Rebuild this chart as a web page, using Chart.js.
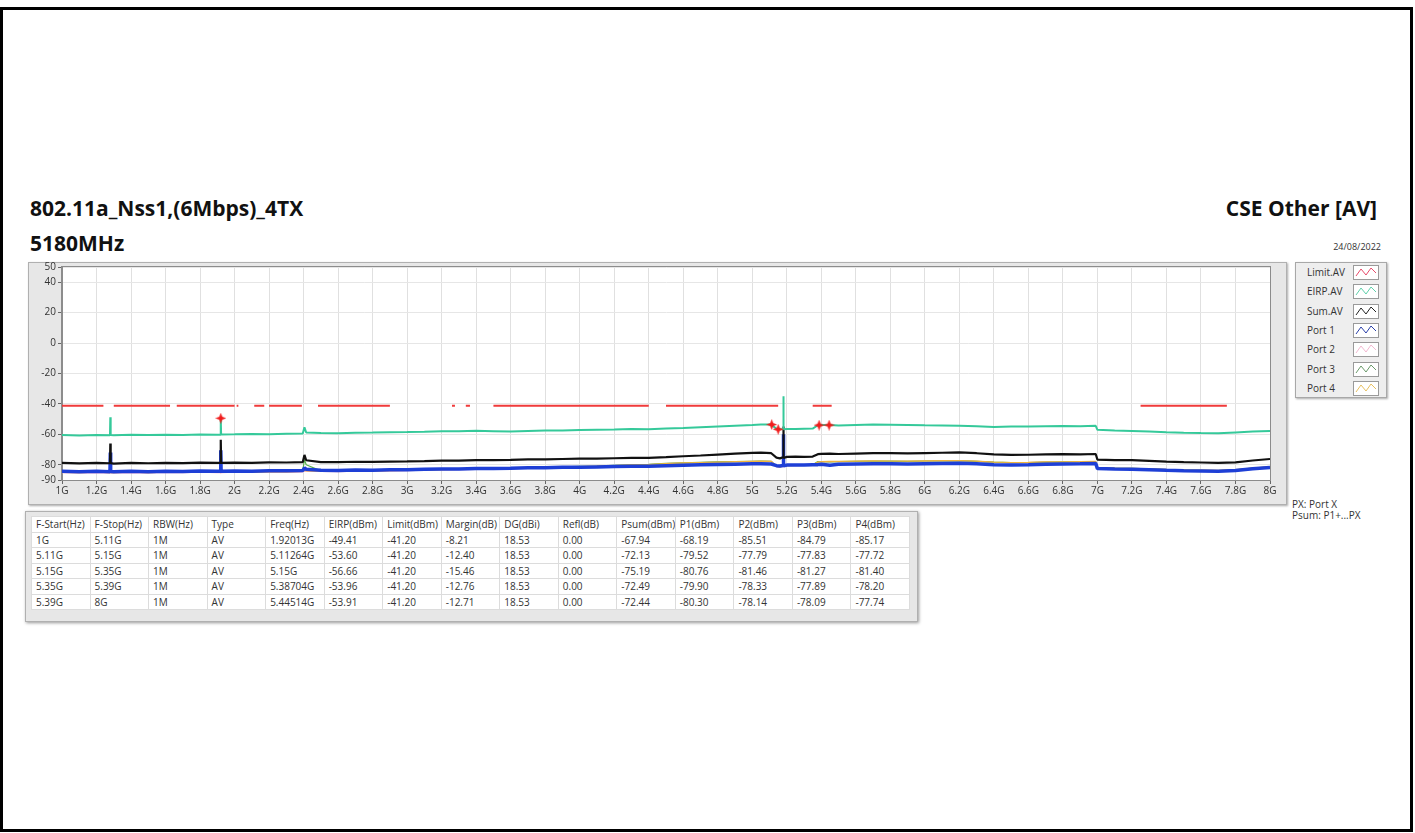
<!DOCTYPE html>
<html>
<head>
<meta charset="utf-8">
<script src="https://cdn.jsdelivr.net/npm/chart.js@4.4.1/dist/chart.umd.min.js"></script>
<style>
    body { margin: 0; width: 1415px; height: 833px; background: #fff; position: relative; overflow: hidden;
           font-family: "Open Sans", "Noto Sans", sans-serif; color: #222; }
    #frame { position: absolute; left: 0; top: 7px; width: 1407px; height: 819px; border: 3px solid #000; }
    .title { position: absolute; font-weight: bold; font-size: 21px; line-height: 24px; color: #111; white-space: nowrap; }
    .small { position: absolute; font-size: 9px; color: #333; white-space: nowrap; }
    #panel { position: absolute; left: 28px; top: 262px; width: 1257px; height: 241px; background: #e7e7e7;
             border: 1px solid #b0b0b0; box-shadow: 1px 1px 2px #aaa; }
    #chart-wrap { position: absolute; left: 28px; top: 258px; width: 1259px; height: 247px; }
    #legend { position: absolute; left: 1295px; top: 262px; width: 90px; height: 134px; background: #eeeeee;
              border: 1px solid #a8a8a8; box-shadow: 1px 1px 2px #aaa; }
    .leg-item { position: absolute; left: 11px; height: 16px; width: 76px; font-size: 10px; line-height: 16px; color: #333; }
    .leg-item svg { position: absolute; left: 46px; top: 1px; }
    .note { position: absolute; left: 1292px; font-size: 10px; color: #333; white-space: nowrap; }
    #table-panel { position: absolute; left: 25px; top: 511px; width: 891px; height: 109px; background: #e7e7e7;
                   border: 1px solid #b0b0b0; box-shadow: 1px 1px 3px #999; }
    #data-table { position: absolute; left: 31px; top: 516px; width: 879px; border-collapse: collapse; background: #fff;
                  table-layout: fixed; font-size: 10px; color: #333; }
    #data-table td { border: 1px solid #dcdcdc; height: 14.5px; padding: 0 0 0 4px; line-height: 14px; white-space: nowrap; overflow: hidden; }
</style>
</head>
<body>
<div id="frame"></div>
<div class="title" style="left:30px; top:196px;">802.11a_Nss1,(6Mbps)_4TX</div>
<div class="title" style="left:30px; top:231px;">5180MHz</div>
<div class="title" style="right:38px; top:196px;">CSE Other [AV]</div>
<div class="small" style="right:34px; top:240px;">24/08/2022</div>

<div id="panel"></div>
<div id="chart-wrap"><canvas id="spectrum-chart"></canvas></div>
<div id="legend"></div>
<div class="note" style="top:497px;">PX: Port X</div>
<div class="note" style="top:508px;">Psum: P1+...PX</div>

<div id="table-panel"></div>
<table id="data-table"></table>

<script>
// ---- axis ticks ----
const xTicks = [1, 1.2, 1.4, 1.6, 1.8, 2, 2.2, 2.4, 2.6, 2.8, 3, 3.2, 3.4, 3.6, 3.8, 4, 4.2, 4.4,
    4.6, 4.8, 5, 5.2, 5.4, 5.6, 5.8, 6, 6.2, 6.4, 6.6, 6.8, 7, 7.2, 7.4, 7.6, 7.8, 8];
const xTickLabels = ['1G', '1.2G', '1.4G', '1.6G', '1.8G', '2G', '2.2G', '2.4G', '2.6G', '2.8G', '3G',
    '3.2G', '3.4G', '3.6G', '3.8G', '4G', '4.2G', '4.4G', '4.6G', '4.8G', '5G', '5.2G', '5.4G', '5.6G',
    '5.8G', '6G', '6.2G', '6.4G', '6.6G', '6.8G', '7G', '7.2G', '7.4G', '7.6G', '7.8G', '8G'];
const yTicks = [50, 40, 20, 0, -20, -40, -60, -80, -90];

// ---- legend ----
const seriesNames = ['Limit.AV', 'EIRP.AV', 'Sum.AV', 'Port 1', 'Port 2', 'Port 3', 'Port 4'];
const seriesColors = ['#f03a3a', '#35c99a', '#111111', '#1e3fd6', '#f4a6c8', '#58b04c', '#f0b43c'];
const legendSwatch = ['#e84a6a', '#5fd0aa', '#222222', '#2a3fa8', '#f2b8d0', '#6a9a6a', '#e8c060'];

// ---- limit line (GHz segments at -41.2 dBm) ----
const limitStart = [1.0, 1.3, 1.665, 2.012, 2.114, 2.2, 2.4835, 3.26, 3.34, 3.5, 4.5, 5.35, 7.25];
const limitStop  = [1.24, 1.626, 2.0, 2.022, 2.172, 2.39, 2.9, 3.277, 3.364, 4.4, 5.15, 5.46, 7.75];
const limitLevel = -41.2;

// ---- traces (GHz / dBm) ----
const freqs = [
    1.0, 1.1, 1.2, 1.278, 1.28, 1.282, 1.3, 1.4, 1.5, 1.6,
    1.7, 1.8, 1.9, 1.918, 1.92, 1.922, 2.0, 2.1, 2.2, 2.3,
    2.395, 2.405, 2.415, 2.5, 2.6, 2.7, 2.8, 2.9, 3.0, 3.1,
    3.2, 3.3, 3.4, 3.5, 3.6, 3.7, 3.8, 3.9, 4.0, 4.1,
    4.2, 4.3, 4.4, 4.5, 4.6, 4.7, 4.8, 4.9, 5.0, 5.05,
    5.11, 5.14, 5.16, 5.178, 5.18, 5.182, 5.2, 5.25, 5.3, 5.35,
    5.38, 5.4, 5.45, 5.5, 5.6, 5.7, 5.8, 5.9, 6.0, 6.1,
    6.2, 6.3, 6.4, 6.5, 6.6, 6.7, 6.8, 6.9, 6.99, 7.0,
    7.1, 7.2, 7.3, 7.4, 7.5, 7.6, 7.7, 7.8, 7.9, 8.0
];
const eirpAv = [
    -60.5, -60.7, -60.4, -60.6, -48.8, -60.5, -60.6, -60.3, -60.5, -60.2,
    -60.4, -60.1, -60.3, -60.2, -49.4, -60.1, -60.0, -59.8, -59.9, -59.6,
    -59.4, -55.4, -58.8, -59.1, -59.2, -58.9, -58.8, -58.6, -58.5, -58.3,
    -58.0, -57.9, -57.7, -57.9, -58.1, -57.8, -57.5, -57.4, -57.2, -57.0,
    -56.8, -56.5, -56.6, -56.2, -55.8, -55.3, -54.8, -54.3, -53.9, -53.6,
    -53.6, -56.3, -56.7, -56.4, -35.0, -56.6, -56.4, -56.5, -56.3, -56.2,
    -54.0, -53.9, -53.9, -54.1, -53.8, -53.6, -53.7, -53.8, -54.0, -54.1,
    -54.3, -54.6, -55.1, -54.9, -54.8, -54.6, -54.5, -54.6, -54.4, -57.0,
    -57.5, -57.8, -58.2, -58.6, -58.9, -59.1, -59.2, -58.7, -58.2, -57.8
];
const sumAv = [
    -78.8, -79.1, -78.7, -79.0, -66.0, -78.9, -79.2, -78.8, -79.0, -78.7,
    -78.9, -78.6, -78.8, -78.7, -63.5, -78.8, -78.6, -78.7, -78.4, -78.5,
    -78.3, -73.5, -77.0, -78.2, -78.3, -78.0, -78.1, -77.9, -77.8, -77.6,
    -77.3, -77.2, -77.0, -76.9, -76.8, -76.5, -76.4, -76.2, -76.0, -75.9,
    -75.7, -75.5, -75.4, -75.0, -74.4, -73.9, -73.3, -72.7, -72.2, -72.0,
    -72.4, -75.3, -75.8, -75.0, -54.8, -75.5, -74.8, -74.7, -74.8, -74.6,
    -73.0, -72.8, -72.7, -72.9, -72.6, -72.3, -72.4, -72.5, -72.3, -72.1,
    -71.9, -72.4, -73.2, -73.5, -73.4, -73.1, -73.0, -73.1, -72.9, -76.6,
    -76.9, -77.0, -77.4, -77.9, -78.3, -78.5, -78.8, -78.4, -77.2, -76.2
];
const port1 = [
    -84.3, -84.6, -84.2, -84.5, -72.0, -84.4, -84.6, -84.3, -84.5, -84.2,
    -84.4, -84.1, -84.3, -84.2, -70.5, -84.3, -84.1, -84.2, -83.9, -84.0,
    -83.8, -82.0, -83.0, -83.6, -83.7, -83.5, -83.6, -83.3, -83.2, -83.0,
    -82.8, -82.7, -82.5, -82.4, -82.3, -82.0, -81.9, -81.7, -81.6, -81.4,
    -81.2, -81.0, -80.9, -80.6, -80.3, -80.0, -79.8, -79.6, -79.4, -79.3,
    -79.5, -80.6, -80.8, -80.5, -60.0, -80.7, -80.2, -80.1, -80.2, -80.0,
    -79.9, -79.6, -80.3, -79.7, -79.5, -79.3, -79.4, -79.5, -79.3, -79.1,
    -79.0, -79.4, -79.9, -80.2, -80.0, -79.7, -79.5, -79.4, -79.1, -82.5,
    -82.8, -82.9, -83.2, -83.6, -83.9, -84.1, -84.3, -83.8, -82.6, -81.7
];
const port2 = [
    -85.2, -85.4, -85.1, -85.3, -85.2, -85.3, -85.4, -85.1, -85.3, -85.0,
    -85.2, -84.9, -85.1, -85.2, -85.5, -85.1, -84.9, -85.0, -84.7, -84.8,
    -84.6, -84.0, -84.2, -84.4, -84.5, -84.2, -84.3, -84.0, -83.9, -83.6,
    -83.4, -83.2, -83.0, -82.8, -82.6, -82.2, -81.9, -81.6, -81.3, -81.0,
    -80.6, -80.2, -79.9, -79.3, -78.9, -78.6, -78.3, -78.0, -77.8, -77.7,
    -77.8, -81.2, -81.5, -81.0, -62.0, -81.3, -80.6, -80.5, -80.4, -80.2,
    -78.3, -78.1, -78.1, -78.0, -77.8, -77.6, -77.7, -77.8, -77.6, -77.5,
    -77.4, -77.8, -78.4, -78.7, -78.6, -78.3, -78.2, -78.1, -78.0, -82.0,
    -82.3, -82.5, -82.8, -83.2, -83.5, -83.7, -83.9, -83.4, -82.3, -81.4
];
const port3 = [
    -84.8, -85.0, -84.7, -84.9, -84.8, -84.9, -85.0, -84.7, -84.9, -84.6,
    -84.8, -84.5, -84.7, -84.8, -84.8, -84.7, -84.5, -84.6, -84.3, -84.4,
    -84.2, -76.5, -80.0, -84.0, -84.1, -83.8, -83.9, -83.6, -83.5, -83.3,
    -83.1, -82.9, -82.7, -82.5, -82.3, -82.0, -81.7, -81.4, -81.1, -80.8,
    -80.4, -80.0, -79.7, -79.1, -78.7, -78.4, -78.1, -77.9, -77.7, -77.6,
    -77.8, -81.0, -81.3, -80.8, -61.5, -81.1, -80.4, -80.3, -80.2, -80.0,
    -77.9, -78.0, -78.1, -77.9, -77.7, -77.5, -77.6, -77.7, -77.5, -77.4,
    -77.3, -77.7, -78.3, -78.6, -78.5, -78.2, -78.1, -78.0, -77.9, -81.9,
    -82.2, -82.4, -82.7, -83.1, -83.4, -83.6, -83.8, -83.3, -82.2, -81.3
];
const port4 = [
    -85.0, -85.2, -84.9, -85.1, -85.0, -85.1, -85.2, -84.9, -85.1, -84.8,
    -85.0, -84.7, -84.9, -85.0, -85.2, -84.9, -84.7, -84.8, -84.5, -84.6,
    -84.4, -83.6, -84.0, -84.2, -84.3, -84.0, -84.1, -83.8, -83.7, -83.4,
    -83.2, -83.0, -82.8, -82.6, -82.4, -82.1, -81.8, -81.5, -81.2, -80.9,
    -80.5, -80.1, -79.8, -79.2, -78.8, -78.5, -78.2, -77.9, -77.7, -77.6,
    -77.7, -81.1, -81.4, -80.9, -62.5, -81.2, -80.5, -80.4, -80.3, -80.1,
    -78.2, -77.9, -77.7, -77.8, -77.6, -77.4, -77.5, -77.6, -77.4, -77.3,
    -77.2, -77.6, -78.2, -78.5, -78.4, -78.1, -78.0, -77.9, -77.8, -81.8,
    -82.1, -82.3, -82.6, -83.0, -83.3, -83.5, -83.7, -83.2, -82.1, -81.2
];

// ---- result table ----
const tableHeaders = ['F-Start(Hz)', 'F-Stop(Hz)', 'RBW(Hz)', 'Type', 'Freq(Hz)', 'EIRP(dBm)', 'Limit(dBm)',
    'Margin(dB)', 'DG(dBi)', 'Refl(dB)', 'Psum(dBm)', 'P1(dBm)', 'P2(dBm)', 'P3(dBm)', 'P4(dBm)'];
const fStart = ['1G', '5.11G', '5.15G', '5.35G', '5.39G'];
const fStop = ['5.11G', '5.15G', '5.35G', '5.39G', '8G'];
const rbw = ['1M', '1M', '1M', '1M', '1M'];
const measType = ['AV', 'AV', 'AV', 'AV', 'AV'];
const peakFreq = [1.92013, 5.11264, 5.15, 5.38704, 5.44514];
const peakEirp = [-49.41, -53.60, -56.66, -53.96, -53.91];
const peakLimit = [-41.20, -41.20, -41.20, -41.20, -41.20];
const peakMargin = [-8.21, -12.40, -15.46, -12.76, -12.71];
const dg = [18.53, 18.53, 18.53, 18.53, 18.53];
const refl = [0.00, 0.00, 0.00, 0.00, 0.00];
const psum = [-67.94, -72.13, -75.19, -72.49, -72.44];
const p1 = [-68.19, -79.52, -80.76, -79.90, -80.30];
const p2 = [-85.51, -77.79, -81.46, -78.33, -78.14];
const p3 = [-84.79, -77.83, -81.27, -77.89, -78.09];
const p4 = [-85.17, -77.72, -81.40, -78.20, -77.74];

/**
 * Builds the legend box on the right of the plot
 */
function buildLegend() {
    const box = document.getElementById('legend');
    seriesNames.forEach((name, i) => {
        const item = document.createElement('div');
        item.className = 'leg-item';
        item.style.top = (1 + i * 19.3) + 'px';
        item.innerHTML = `${name}<svg width="26" height="15">` +
            `<rect x="0.5" y="0.5" width="25" height="14" fill="#fff" stroke="#9a9a9a"/>` +
            `<polyline points="3,11 8,4 13,10 18,3 23,8" fill="none" stroke="${legendSwatch[i]}" stroke-width="1"/></svg>`;
        box.appendChild(item);
    });
}

/**
 * Fills the peak table
 */
function buildTable() {
    const table = document.getElementById('data-table');
    const fmt = v => v.toFixed(2);
    let html = '<tr>' + tableHeaders.map(h => `<td>${h}</td>`).join('') + '</tr>';
    for (let r = 0; r < fStart.length; r++) {
        const cells = [fStart[r], fStop[r], rbw[r], measType[r], peakFreq[r] + 'G', fmt(peakEirp[r]),
            fmt(peakLimit[r]), fmt(peakMargin[r]), fmt(dg[r]), fmt(refl[r]), fmt(psum[r]),
            fmt(p1[r]), fmt(p2[r]), fmt(p3[r]), fmt(p4[r])];
        html += '<tr>' + cells.map(c => `<td>${c}</td>`).join('') + '</tr>';
    }
    table.innerHTML = html;
}

/**
 * Red four-point star used for the peak markers
 */
function createStarMarker(color) {
    const shape = document.createElement('canvas');
    shape.width = 11;
    shape.height = 11;
    const c = shape.getContext('2d');
    c.fillStyle = color;
    c.beginPath();
    c.moveTo(5.5, 0);
    c.lineTo(7, 4);
    c.lineTo(11, 5.5);
    c.lineTo(7, 7);
    c.lineTo(5.5, 11);
    c.lineTo(4, 7);
    c.lineTo(0, 5.5);
    c.lineTo(4, 4);
    c.closePath();
    c.fill();
    return shape;
}

const toPoints = values => freqs.map((f, i) => ({ x: f, y: values[i] }));

// limit segments with null breaks between them
const limitPoints = [];
limitStart.forEach((s, i) => {
    limitPoints.push({ x: s, y: limitLevel }, { x: limitStop[i], y: limitLevel }, { x: limitStop[i], y: null });
});

const plotFrame = {
    id: 'plotFrame',
    beforeDraw(chart) {
        const { ctx, chartArea: a } = chart;
        ctx.save();
        ctx.fillStyle = '#ffffff';
        ctx.fillRect(a.left, a.top, a.right - a.left, a.bottom - a.top);
        ctx.restore();
    },
    afterDraw(chart) {
        const { ctx, chartArea: a } = chart;
        ctx.save();
        ctx.strokeStyle = '#8c8c8c';
        ctx.lineWidth = 1;
        ctx.strokeRect(a.left - 0.5, a.top - 0.5, a.right - a.left + 1, a.bottom - a.top + 1);
        ctx.restore();
    }
};

buildLegend();
buildTable();

const traceDefaults = { pointRadius: 0, fill: false, tension: 0, spanGaps: false, borderJoinStyle: 'bevel' };

new Chart(document.getElementById('spectrum-chart'), {
    type: 'line',
    data: {
        datasets: [
            {
                label: 'Peaks',
                data: peakFreq.map((f, i) => ({ x: f, y: peakEirp[i] })),
                showLine: false,
                pointStyle: createStarMarker('#f01c1c'),
                pointRadius: 5
            },
            { ...traceDefaults, label: seriesNames[0], data: limitPoints, borderColor: seriesColors[0], borderWidth: 2 },
            { ...traceDefaults, label: seriesNames[1], data: toPoints(eirpAv), borderColor: seriesColors[1], borderWidth: 2 },
            { ...traceDefaults, label: seriesNames[2], data: toPoints(sumAv), borderColor: seriesColors[2], borderWidth: 2.2 },
            { ...traceDefaults, label: seriesNames[3], data: toPoints(port1), borderColor: seriesColors[3], borderWidth: 3.5 },
            { ...traceDefaults, label: seriesNames[6], data: toPoints(port4), borderColor: seriesColors[6], borderWidth: 1.2 },
            { ...traceDefaults, label: seriesNames[5], data: toPoints(port3), borderColor: seriesColors[5], borderWidth: 1.2 },
            { ...traceDefaults, label: seriesNames[4], data: toPoints(port2), borderColor: seriesColors[4], borderWidth: 1.2 }
        ]
    },
    options: {
        responsive: true,
        maintainAspectRatio: false,
        animation: false,
        layout: { padding: { top: 9, right: 17, bottom: 0, left: 0 } },
        plugins: {
            legend: { display: false },
            tooltip: { enabled: false }
        },
        scales: {
            x: {
                type: 'linear',
                min: 1,
                max: 8,
                afterBuildTicks: axis => { axis.ticks = xTicks.map(v => ({ value: v })); },
                afterFit: axis => { axis.height = 25; },
                grid: { color: '#e0e0e0', tickColor: '#666', tickLength: 4 },
                border: { color: '#8c8c8c' },
                ticks: {
                    autoSkip: false,
                    maxRotation: 0,
                    padding: 1,
                    color: '#333',
                    font: { family: '"Open Sans", "Noto Sans", sans-serif', size: 10 },
                    callback: (value, index) => xTickLabels[index]
                }
            },
            y: {
                min: -90,
                max: 50,
                afterBuildTicks: axis => { axis.ticks = yTicks.map(v => ({ value: v })); },
                afterFit: axis => { axis.width = 34; },
                grid: { color: '#e6e6e6', tickColor: '#666', tickLength: 4 },
                border: { color: '#8c8c8c' },
                ticks: {
                    autoSkip: false,
                    padding: 2,
                    color: '#333',
                    font: { family: '"Open Sans", "Noto Sans", sans-serif', size: 10 }
                }
            }
        }
    },
    plugins: [plotFrame]
});
</script>
</body>
</html>
